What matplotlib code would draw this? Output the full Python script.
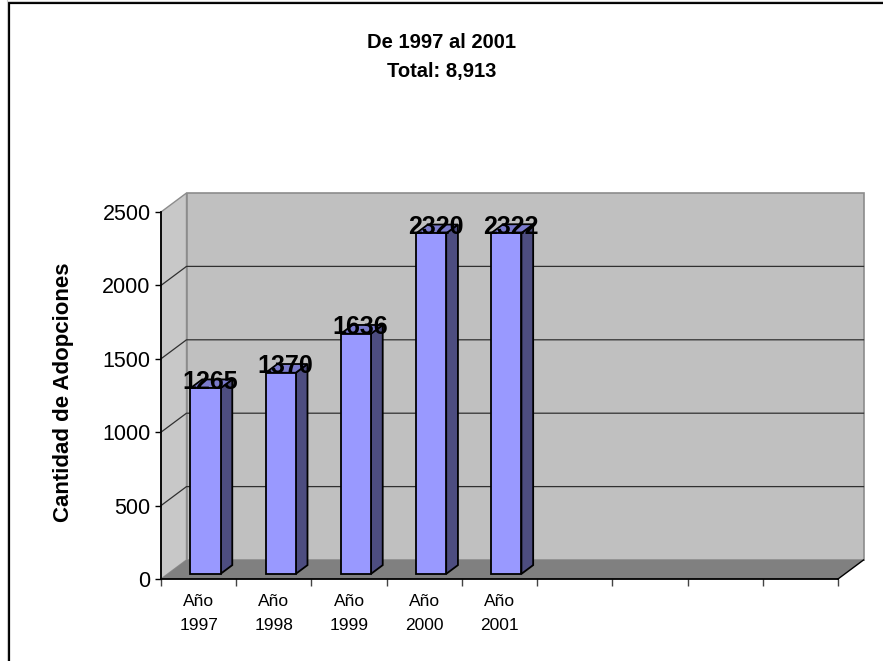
import matplotlib
matplotlib.use('Agg')
import matplotlib.pyplot as plt
from matplotlib.patches import Polygon
from matplotlib.lines import Line2D

plt.rcParams['font.family'] = ['Liberation Sans', 'DejaVu Sans']

# data
years = ['1997', '1998', '1999', '2000', '2001']
adopciones = [1265, 1370, 1636, 2320, 2322]
n_slots = 9          # the category axis has room for 9 columns
y_max = 2500
y_ticks = [0, 500, 1000, 1500, 2000, 2500]

W, H = 883, 661
fig = plt.figure(figsize=(W / 100, H / 100), dpi=100)
ax = fig.add_axes([161 / W, 1 - 579 / H, 677 / W, 367 / H])
ax.set_xlim(0, n_slots)
ax.set_ylim(0, y_max)
ax.patch.set_visible(False)

# depth of the 3d box, in data units
dx = 25.5 / (677 / n_slots)
dy = 19 / (367 / y_max)


def poly(pts, fc, ec='none', lw=0, z=1):
    ax.add_patch(Polygon(pts, closed=True, facecolor=fc, edgecolor=ec,
                         linewidth=lw, zorder=z, clip_on=False))


# walls and floor
poly([(0, 0), (dx, dy), (dx, y_max + dy), (0, y_max)], '#c8c8c8', '#8c8c8c', 1, 0.5)
poly([(dx, dy), (n_slots + dx, dy), (n_slots + dx, y_max + dy), (dx, y_max + dy)],
     '#c0c0c0', '#8c8c8c', 1.2, 0.5)
poly([(0, 0), (n_slots, 0), (n_slots + dx, dy), (dx, dy)], '#808080', z=0.6)
ax.plot([n_slots, n_slots + dx], [0, dy], color='black', lw=1, clip_on=False, zorder=2)

# gridlines on side and back wall
for t in y_ticks[1:-1]:
    ax.plot([0, dx, n_slots + dx], [t, t + dy, t + dy], color='#303030', lw=0.9,
            clip_on=False, zorder=1)

# 3d bars
w = 0.4
d0, d1 = 0.27, 0.73
ddx, ddy = (d1 - d0) * dx, (d1 - d0) * dy
for i, v in enumerate(adopciones):
    x0 = i + 0.5 - w / 2 + d0 * dx
    x1 = x0 + w
    y0 = d0 * dy
    poly([(x1, y0), (x1 + ddx, y0 + ddy), (x1 + ddx, y0 + v + ddy), (x1, y0 + v)],
         '#4d4d80', 'black', 1.3, 3)
    poly([(x0, y0 + v), (x1, y0 + v), (x1 + ddx, y0 + v + ddy), (x0 + ddx, y0 + v + ddy)],
         '#7a7acc', 'black', 1.3, 3)
    poly([(x0, y0), (x1, y0), (x1, y0 + v), (x0, y0 + v)], '#9999ff', 'black', 1.3, 3.1)
    ax.text(i + 0.5 + 0.45 * dx, y0 + v - 5, str(v), ha='center', va='baseline',
            fontsize=18, fontweight='bold', zorder=5)

# axes
for s in ['top', 'right']:
    ax.spines[s].set_visible(False)
for s in ['left', 'bottom']:
    ax.spines[s].set_linewidth(1.3)
    ax.spines[s].set_zorder(2.5)

ax.set_yticks(y_ticks)
ax.tick_params(axis='y', length=4.5, width=1, direction='out', pad=3, labelsize=15.5)

ax.set_xticks([i + 0.5 for i in range(n_slots)])
ax.set_xticklabels(['Año\n' + y for y in years] + [''] * (n_slots - len(years)),
                   linespacing=1.75)
ax.set_xticks(range(n_slots + 1), minor=True)
ax.tick_params(axis='x', which='major', length=0, pad=11, labelsize=12.5)
ax.tick_params(axis='x', which='minor', length=5, width=1, color='#444444')

ax.set_ylabel('Cantidad de Adopciones', fontsize=16, fontweight='bold')
ax.yaxis.set_label_coords(-0.128, 0.51)

# title
fig.text(0.5, 1 - 42 / H, 'De 1997 al 2001', ha='center', va='center',
         fontsize=14.5, fontweight='bold')
fig.text(0.5, 1 - 72 / H, 'Total: 8,913', ha='center', va='center',
         fontsize=14.5, fontweight='bold')

# chart border (only left and top edges fall inside the picture)
fig.add_artist(Line2D([9 / W, 9 / W], [0, 1 - 3 / H], color='black', lw=1.6))
fig.add_artist(Line2D([9 / W, 1], [1 - 3 / H, 1 - 3 / H], color='black', lw=1.6))
fig.add_artist(Line2D([7 / W, 7 / W], [0, 1], color='#cccccc', lw=0.8))
fig.add_artist(Line2D([7 / W, 1], [1 - 1 / H, 1 - 1 / H], color='#cccccc', lw=0.8))

fig.savefig('out.png', dpi=100)
